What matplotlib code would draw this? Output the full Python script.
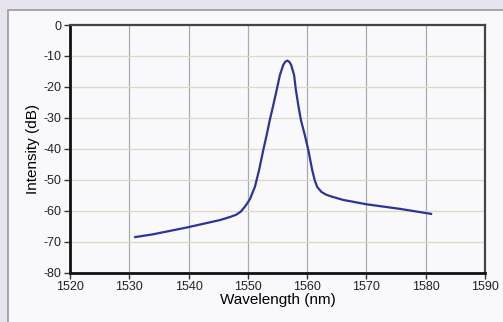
import matplotlib
matplotlib.use('Agg')
import matplotlib.pyplot as plt
from matplotlib.patches import Rectangle

# values
wavelength = [1531.0, 1534.0, 1539.7, 1545.3, 1547.0, 1548.0, 1548.8, 1549.4,
              1549.9, 1550.36, 1551.2, 1551.9, 1552.6, 1553.2, 1553.7, 1554.3,
              1554.86, 1555.4, 1555.97, 1556.3, 1556.65, 1557.0, 1557.3, 1557.8,
              1558.1, 1558.5, 1558.95, 1559.6, 1560.2, 1560.85, 1561.3, 1561.7,
              1562.4, 1563.2, 1564.1, 1566.1, 1570.0, 1575.7, 1580.9]
intensity = [-68.5, -67.6, -65.4, -63.0, -62.0, -61.3, -60.3, -58.9,
             -57.6, -56.2, -52.2, -46.8, -40.4, -35.3, -30.7, -25.8,
             -21.0, -16.2, -12.9, -11.9, -11.5, -11.9, -12.9, -16.2,
             -21.0, -25.8, -30.7, -35.5, -40.4, -46.8, -50.3, -52.3,
             -53.9, -54.8, -55.4, -56.5, -57.9, -59.4, -61.0]
x_ticks = [1520, 1530, 1540, 1550, 1560, 1570, 1580, 1590]
y_ticks = [-80, -70, -60, -50, -40, -30, -20, -10, 0]

plt.rcParams['font.family'] = ['Liberation Sans', 'DejaVu Sans']
plt.rcParams['axes.unicode_minus'] = False

fig = plt.figure(figsize=(5.03, 3.22), dpi=100)
fig.patch.set_facecolor('#e7e3ef')
# white panel behind the chart
panel = Rectangle((8 / 503, -0.1), 1.0, 1 - 10 / 322 + 0.1, transform=fig.transFigure,
                  facecolor='#f9f9fc', edgecolor='#9a9a9a', linewidth=1.2, zorder=-1)
fig.patches.append(panel)

ax = fig.add_axes([70 / 503, 1 - 272.7 / 322, (485 - 70) / 503, (272.7 - 25) / 322])
ax.set_facecolor('#f9f9fc')
ax.plot(wavelength, intensity, color='#2a3596', linewidth=1.6, zorder=3,
        solid_joinstyle='round')

ax.set_xlim(1520, 1590)
ax.set_ylim(-80, 0)
ax.set_xticks(x_ticks)
ax.set_yticks(y_ticks)
ax.tick_params(labelsize=9, length=4, width=1, color='#333333', labelcolor='#222222', pad=2)

for v in x_ticks[1:-1]:
    ax.axvline(v, color='#a4abb2', linewidth=0.9, zorder=1)
for v in y_ticks[1:-1]:
    ax.axhline(v, color='#ddd9c9', linewidth=0.9, zorder=1)

for side in ('left', 'bottom'):
    ax.spines[side].set_linewidth(2)
    ax.spines[side].set_color('#111111')
for side in ('top', 'right'):
    ax.spines[side].set_linewidth(1.6)
    ax.spines[side].set_color('#444444')

ax.set_xlabel('Wavelength (nm)', fontsize=11, labelpad=0)
ax.set_ylabel('Intensity (dB)', fontsize=11, labelpad=3)

fig.savefig('out.png', dpi=100, facecolor=fig.get_facecolor())
